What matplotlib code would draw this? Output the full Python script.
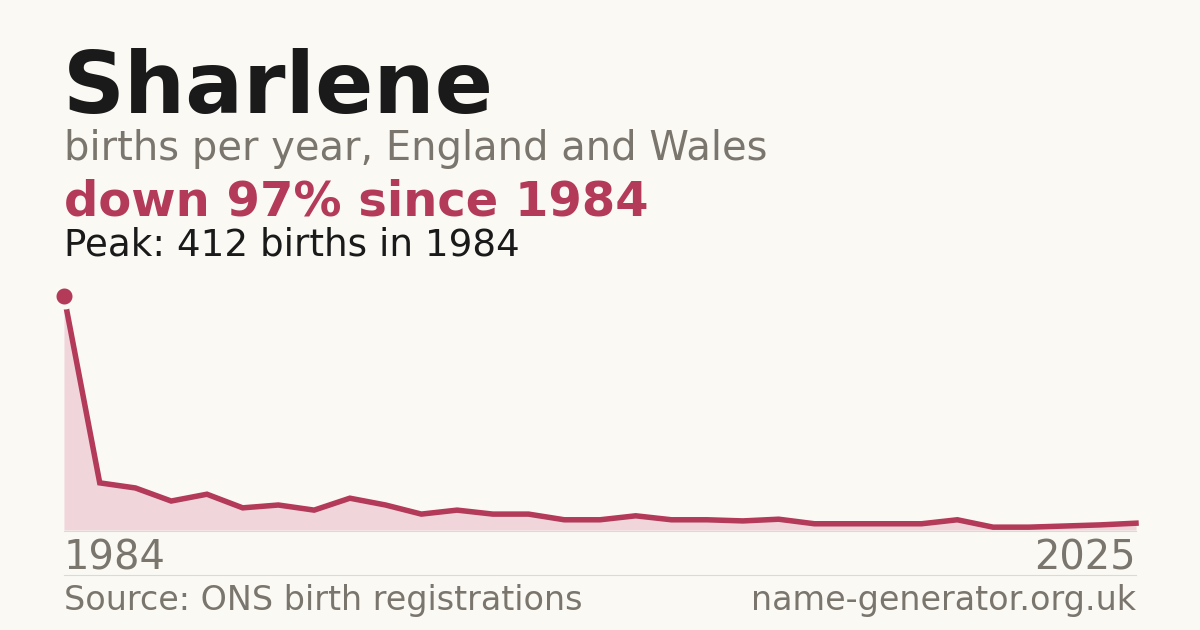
import matplotlib
matplotlib.use("Agg")
import matplotlib.pyplot as plt
import numpy as np

# births per year, first = 1984, last = 2025
births = [412, 83, 74, 51, 63, 39, 44, 35, 56, 44, 28, 35, 28, 28, 18, 18,
          25, 18, 18, 16, 19, 11, 11, 11, 11, 18, 5, 5, 7, 9, 12]
first_year = "1984"
last_year = "2025"

name = "Sharlene"
subtitle = "births per year, England and Wales"
headline = "down 97% since 1984"
peak_note = "Peak: 412 births in 1984"
source = "Source: ONS birth registrations"
site = "name-generator.org.uk"

bg = "#faf9f4"
red = "#b33a58"
grey = "#7a756d"
dark = "#1a1a1a"

W, H = 1200, 630
fig = plt.figure(figsize=(12, 6.3), dpi=100, facecolor=bg)

def px(x, y):
    return x / W, 1 - y / H

def pt(p):
    return p * 72 / 100

# header text
fig.text(*px(63, 113), name, fontsize=pt(86), fontweight="bold", color=dark, va="baseline")
fig.text(*px(64, 160), subtitle, fontsize=pt(40), color=grey, va="baseline")
fig.text(*px(64, 215), headline, fontsize=pt(48), fontweight="bold", color=red, va="baseline")
fig.text(*px(64, 255), peak_note, fontsize=pt(37.2), color=dark, va="baseline")

# chart area
ax = fig.add_axes([64 / W, 1 - 530 / H, (1136 - 64) / W, (530 - 296) / H])
ax.set_facecolor(bg)
x = np.arange(len(births))
ax.fill_between(x, births, 0, color="#f0d5db", linewidth=0)
ax.plot(x, births, color=red, linewidth=pt(5.5), solid_joinstyle="miter", clip_on=False)
ax.plot([0], [births[0]], "o", color=red, markersize=pt(21), markeredgecolor=bg,
        markeredgewidth=pt(5), clip_on=False, zorder=5)
ax.set_xlim(0, len(births) - 1)
ax.set_ylim(0, max(births))
for s in ax.spines.values():
    s.set_visible(False)
ax.set_xticks([])
ax.set_yticks([])

# baseline and separator
fig.add_artist(plt.Line2D([64 / W, 1136 / W], [1 - 530.5 / H] * 2, color="#dcdad4", linewidth=0.8))
fig.add_artist(plt.Line2D([64 / W, 1136 / W], [1 - 574.5 / H] * 2, color="#dcdad4", linewidth=0.8))

fig.text(*px(64, 570), first_year, fontsize=pt(40), color=grey, va="baseline")
fig.text(*px(1136, 570), last_year, fontsize=pt(40), color=grey, va="baseline", ha="right")
fig.text(*px(64, 610), source, fontsize=pt(33.4), color=grey, va="baseline")
fig.text(*px(1136, 610), site, fontsize=pt(33.4), color=grey, va="baseline", ha="right")

fig.savefig("out.png", dpi=100, facecolor=bg)
